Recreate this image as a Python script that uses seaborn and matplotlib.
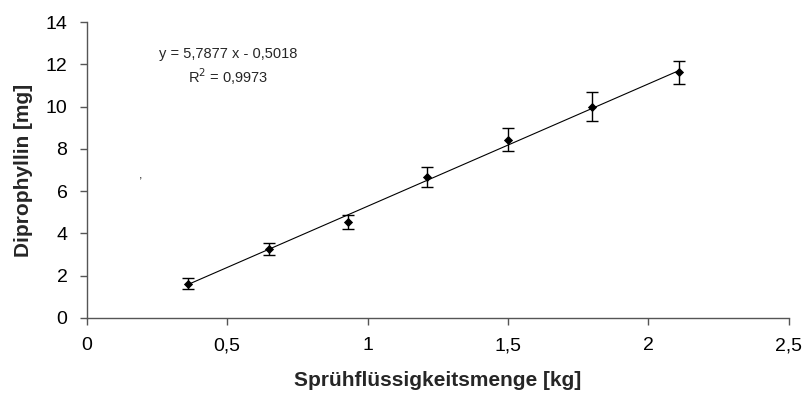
import numpy as np
import pandas as pd
import matplotlib
matplotlib.use('Agg')
import matplotlib.pyplot as plt
import seaborn as sns

# Messwerte
menge_kg = [0.36, 0.65, 0.93, 1.21, 1.50, 1.80, 2.11]
diprophyllin_mg = [1.62, 3.26, 4.54, 6.66, 8.44, 10.0, 11.62]
fehler_mg = [0.26, 0.30, 0.33, 0.48, 0.53, 0.70, 0.55]

# Trendlinie (lineare Regression wie im Original)
steigung = 5.7877
achsenabschnitt = -0.5018
r_quadrat = 0.9973

x_ticks = [0, 0.5, 1, 1.5, 2, 2.5]
x_labels = ['0', '0,5', '1', '1,5', '2', '2,5']
y_ticks = [0, 2, 4, 6, 8, 10, 12, 14]

sns.set_style('ticks')
plt.rcParams['font.family'] = ['Liberation Sans', 'DejaVu Sans']

df = pd.DataFrame({'x': menge_kg, 'y': diprophyllin_mg, 'err': fehler_mg})

fig = plt.figure(figsize=(8.04, 4.01), dpi=100)
ax = fig.add_axes([0.108, 0.207, 0.873, 0.738])

trend_x = np.array([min(menge_kg), max(menge_kg)])
trend = pd.DataFrame({'x': trend_x, 'y': steigung * trend_x + achsenabschnitt})
sns.lineplot(data=trend, x='x', y='y', color='black', linewidth=0.8, ax=ax)

ax.errorbar(df['x'], df['y'], yerr=df['err'], fmt='none', ecolor='black',
            elinewidth=1.0, capsize=4, capthick=1.0)
sns.scatterplot(data=df, x='x', y='y', marker='D', color='black', s=22,
                edgecolor='black', linewidth=0, ax=ax, zorder=3)

ax.text(0.505, 12.5, 'y = 5,7877 x - 0,5018', fontsize=10.5, ha='center', va='center')
ax.text(0.505, 11.4, 'R$^2$ = 0,9973', fontsize=10.5, ha='center', va='center')
ax.text(0.19, 6.75, ',', fontsize=9, ha='center', va='center')

ax.set_xlim(0, 2.5)
ax.set_ylim(0, 14)
ax.set_xticks(x_ticks)
ax.set_xticklabels(x_labels)
ax.set_yticks(y_ticks)
ax.tick_params(labelsize=14, colors='black', length=5, width=1, color='#555555', pad=9)
for side in ['left', 'bottom']:
    ax.spines[side].set_color('#555555')
    ax.spines[side].set_linewidth(1)
sns.despine(ax=ax)

ax.set_xlabel('Sprühflüssigkeitsmenge [kg]', fontsize=15, fontweight='bold', labelpad=12)
ax.set_ylabel('Diprophyllin [mg]', fontsize=15, fontweight='bold', labelpad=9)

fig.savefig('out.png', dpi=100)
plt.close(fig)
